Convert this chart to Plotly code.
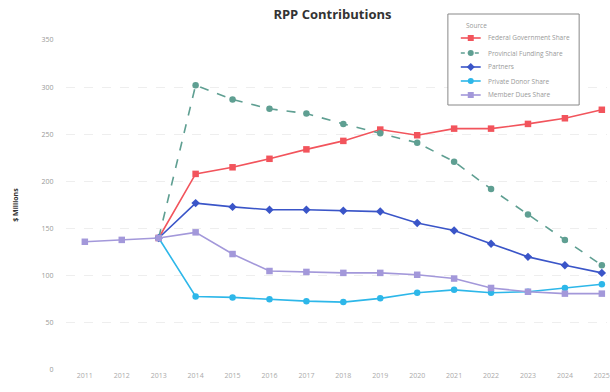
import plotly.graph_objects as go

# Contribution years
years = list(range(2011, 2026))

# Contributions by source, $ millions (None = no contribution reported)
federal = [None, None, 140, 208, 215, 224, 234, 243, 255, 249, 256, 256, 261, 267, 276]
provincial = [None, None, 140, 302, 287, 277, 272, 261, 251, 241, 221, 192, 165, 138, 111]
partners = [None, None, 140, 177, 173, 170, 170, 169, 168, 156, 148, 134, 120, 111, 103]
private = [None, None, 140, 78, 77, 75, 73, 72, 76, 82, 85, 82, 83, 87, 91]
members = [136, 138, 140, 146, 123, 105, 104, 103, 103, 101, 97, 87, 83, 81, 81]

series_names = [
    "Federal Government Share",
    "Provincial Funding Share",
    "Partners",
    "Private Donor Share",
    "Member Dues Share",
]

tick_vals = [0, 50, 100, 150, 200, 250, 300, 350]

styles = [
    dict(color="#f2545c", symbol="square", dash="solid"),
    dict(color="#5f9f92", symbol="circle", dash="dash"),
    dict(color="#3a55c8", symbol="diamond", dash="solid"),
    dict(color="#2db7e9", symbol="circle", dash="solid"),
    dict(color="#a398da", symbol="square", dash="solid"),
]

W, H = 610, 392
ML, MR, MT, MB = 66, 0, 40, 22
PW, PH = W - ML - MR, H - MT - MB


def px_x(px):
    return (px - ML) / PW


def px_y(py):
    return (H - MB - py) / PH


fig = go.Figure()
for name, vals, st in zip(series_names, [federal, provincial, partners, private, members], styles):
    fig.add_trace(go.Scatter(
        x=years, y=vals, name=name, mode="lines+markers",
        line=dict(color=st["color"], width=1.6, dash=st["dash"]),
        marker=dict(color=st["color"], symbol=st["symbol"], size=6.5),
        cliponaxis=False, showlegend=False,
    ))

# Compact legend box drawn with shapes and annotations
shapes = [dict(type="rect", xref="paper", yref="paper",
               x0=px_x(450), x1=px_x(582), y0=px_y(105), y1=px_y(14),
               line=dict(color="#888", width=1), fillcolor="white", layer="above")]
annotations = [dict(text="Source", xref="paper", yref="paper", x=px_x(466), y=px_y(25),
                    xanchor="left", yanchor="middle", showarrow=False,
                    font=dict(size=6.5, color="#999"))]
item_y = [38, 53, 67, 81, 95]
for name, st, iy in zip(series_names, styles, item_y):
    yp = px_y(iy)
    shapes.append(dict(type="line", xref="paper", yref="paper",
                       x0=px_x(463), x1=px_x(483), y0=yp, y1=yp, layer="above",
                       line=dict(color=st["color"], width=1.6,
                                 dash="4px,3px" if st["dash"] == "dash" else "solid")))
    xa = px_x(473)
    if st["symbol"] == "diamond":
        shapes.append(dict(type="path", xref="paper", yref="paper", layer="above",
                           xsizemode="pixel", ysizemode="pixel", xanchor=xa, yanchor=yp,
                           path="M -4 0 L 0 4 L 4 0 L 0 -4 Z",
                           fillcolor=st["color"], line=dict(width=0)))
    else:
        shapes.append(dict(type="rect" if st["symbol"] == "square" else "circle",
                           xref="paper", yref="paper", layer="above",
                           xsizemode="pixel", ysizemode="pixel", xanchor=xa, yanchor=yp,
                           x0=-3, x1=3, y0=-3, y1=3,
                           fillcolor=st["color"], line=dict(width=0)))
    annotations.append(dict(text=name, xref="paper", yref="paper", x=px_x(488), y=yp,
                            xanchor="left", yanchor="middle", showarrow=False,
                            font=dict(size=6.5, color="#999")))

fig.update_layout(
    width=W, height=H,
    margin=dict(l=ML, r=MR, t=MT, b=MB),
    paper_bgcolor="white", plot_bgcolor="white",
    title=dict(text="<b>RPP Contributions</b>", x=0.545, xanchor="center", y=0.975, yanchor="top",
               font=dict(family="Open Sans", size=13, color="#333")),
    font=dict(family="Open Sans", color="#888"),
    showlegend=False,
    shapes=shapes,
    annotations=annotations,
    xaxis=dict(
        range=[2010.49, 2025.14], tickmode="array", tickvals=years,
        tickfont=dict(size=7, color="#aaa"), showgrid=False, zeroline=False,
        showline=False, ticks="", ticklabeloverflow="allow",
    ),
    yaxis=dict(
        range=[0, 350], tickmode="array", tickvals=tick_vals,
        tickfont=dict(size=7, color="#999"), showgrid=True, gridcolor="#eeeeee",
        griddash="dash", gridwidth=1, zeroline=False, showline=False,
        ticks="outside", ticklen=10, tickcolor="white",
        title=dict(text="<b>$ Millions</b>", font=dict(size=7, color="#333"), standoff=22),
    ),
)

fig.write_html("out.html")
